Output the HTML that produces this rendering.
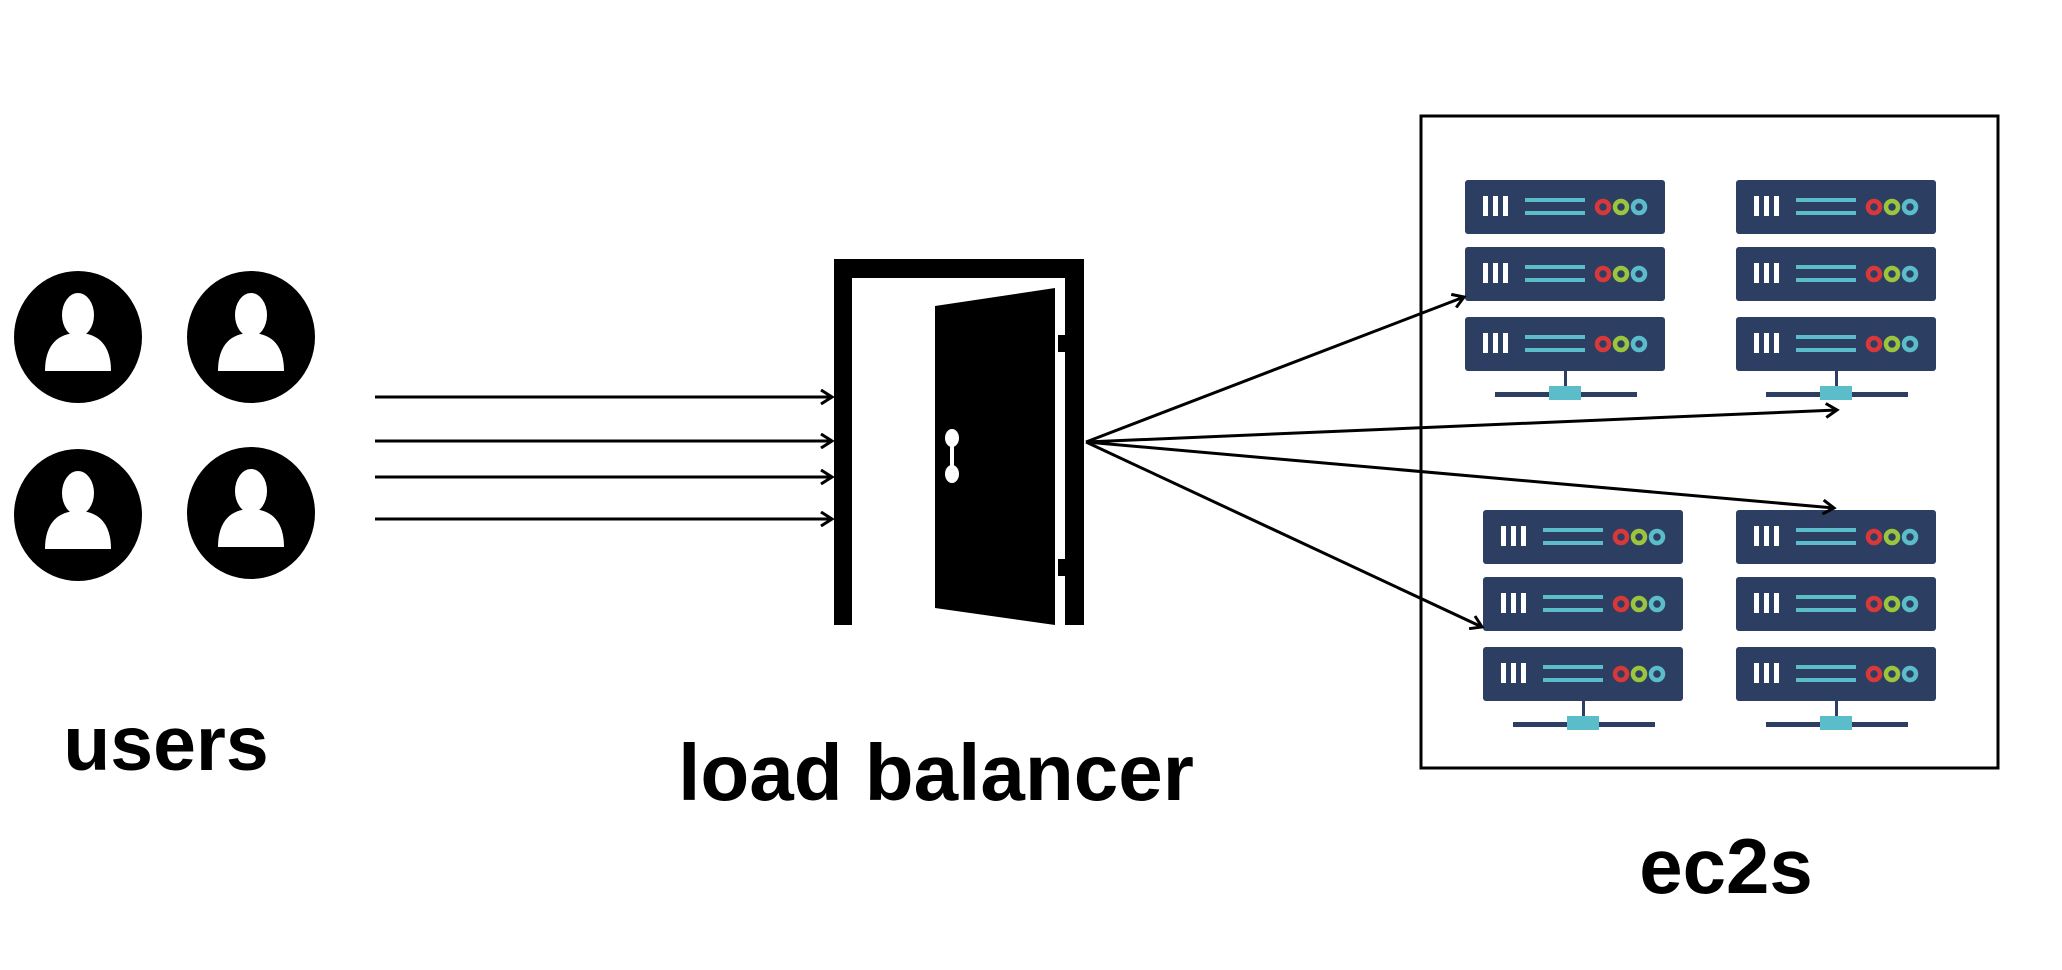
<!DOCTYPE html>
<html><head><style>
html,body{margin:0;padding:0;background:#fff;}
svg{display:block}
text{font-family:"Liberation Sans",sans-serif;font-weight:bold;fill:#000}
</style></head><body>
<svg width="2062" height="970" viewBox="0 0 2062 970" xmlns="http://www.w3.org/2000/svg">
<defs>
<marker id="ah" markerWidth="16" markerHeight="16" refX="13" refY="8" orient="auto" markerUnits="userSpaceOnUse">
<path d="M2,1 L13,8 L2,15" fill="none" stroke="#000" stroke-width="3"/>
</marker>
<g id="unit">
<rect x="0" y="0" width="200" height="54" rx="3" fill="#2d3e63"/>
<rect x="18" y="16" width="5" height="20" fill="#fff"/>
<rect x="28" y="16" width="5" height="20" fill="#fff"/>
<rect x="38" y="16" width="5" height="20" fill="#fff"/>
<rect x="60" y="18" width="60" height="4" fill="#5bbdc9"/>
<rect x="60" y="31" width="60" height="4" fill="#5bbdc9"/>
<circle cx="138" cy="27" r="6" fill="none" stroke="#d9383a" stroke-width="4.5"/>
<circle cx="156" cy="27" r="6" fill="none" stroke="#9bc53d" stroke-width="4.5"/>
<circle cx="174" cy="27" r="6" fill="none" stroke="#5bbdc9" stroke-width="4.5"/>
</g>
<g id="stack">
<use href="#unit" y="0"/>
<use href="#unit" y="67"/>
<use href="#unit" y="137"/>
<rect x="99" y="191" width="3" height="26" fill="#2d3e63"/>
<rect x="30" y="212" width="142" height="5" fill="#2d3e63"/>
<rect x="84" y="206" width="32" height="14" fill="#5bbdc9"/>
</g>
<g id="user">
<ellipse cx="0" cy="0" rx="64" ry="66" fill="#000"/>
<ellipse cx="0" cy="-22" rx="16" ry="22" fill="#fff"/>
<path d="M-33,34 C-33,8 -20,-4 0,-4 C20,-4 33,8 33,34 Z" fill="#fff"/>
</g>
</defs>
<use href="#user" x="78" y="337"/>
<use href="#user" x="251" y="337"/>
<use href="#user" x="78" y="515"/>
<use href="#user" x="251" y="513"/>
<g stroke="#000" stroke-width="3" marker-end="url(#ah)">
<line x1="375" y1="397" x2="832" y2="397"/>
<line x1="375" y1="441" x2="832" y2="441"/>
<line x1="375" y1="477" x2="832" y2="477"/>
<line x1="375" y1="519" x2="832" y2="519"/>
</g>
<!-- door -->
<rect x="834" y="259" width="18" height="366" fill="#000"/>
<rect x="834" y="259" width="250" height="19" fill="#000"/>
<rect x="1065" y="259" width="19" height="76" fill="#000"/>
<rect x="1058" y="335" width="26" height="17" fill="#000"/>
<rect x="1065" y="352" width="19" height="207" fill="#000"/>
<rect x="1058" y="559" width="26" height="17" fill="#000"/>
<rect x="1065" y="576" width="19" height="49" fill="#000"/>
<polygon points="935,306 1055,288 1055,625 935,608" fill="#000"/>
<ellipse cx="952" cy="438" rx="7" ry="9" fill="#fff"/>
<ellipse cx="952" cy="474" rx="7" ry="9" fill="#fff"/>
<rect x="950" y="440" width="4" height="32" fill="#fff"/>
<!-- ec2 box -->
<rect x="1421" y="116" width="577" height="652" fill="none" stroke="#000" stroke-width="3"/>
<use href="#stack" x="1465" y="180"/>
<use href="#stack" x="1736" y="180"/>
<use href="#stack" x="1483" y="510"/>
<use href="#stack" x="1736" y="510"/>
<g stroke="#000" stroke-width="3" marker-end="url(#ah)">
<line x1="1086" y1="442" x2="1464" y2="297"/>
<line x1="1086" y1="442" x2="1837" y2="410"/>
<line x1="1086" y1="442" x2="1834" y2="508"/>
<line x1="1086" y1="442" x2="1482" y2="627"/>
</g>
<text x="166" y="770" font-size="77" text-anchor="middle">users</text>
<text x="936" y="800" font-size="80" text-anchor="middle">load balancer</text>
<text x="1726" y="893" font-size="78" text-anchor="middle">ec2s</text>
</svg>
</body></html>
